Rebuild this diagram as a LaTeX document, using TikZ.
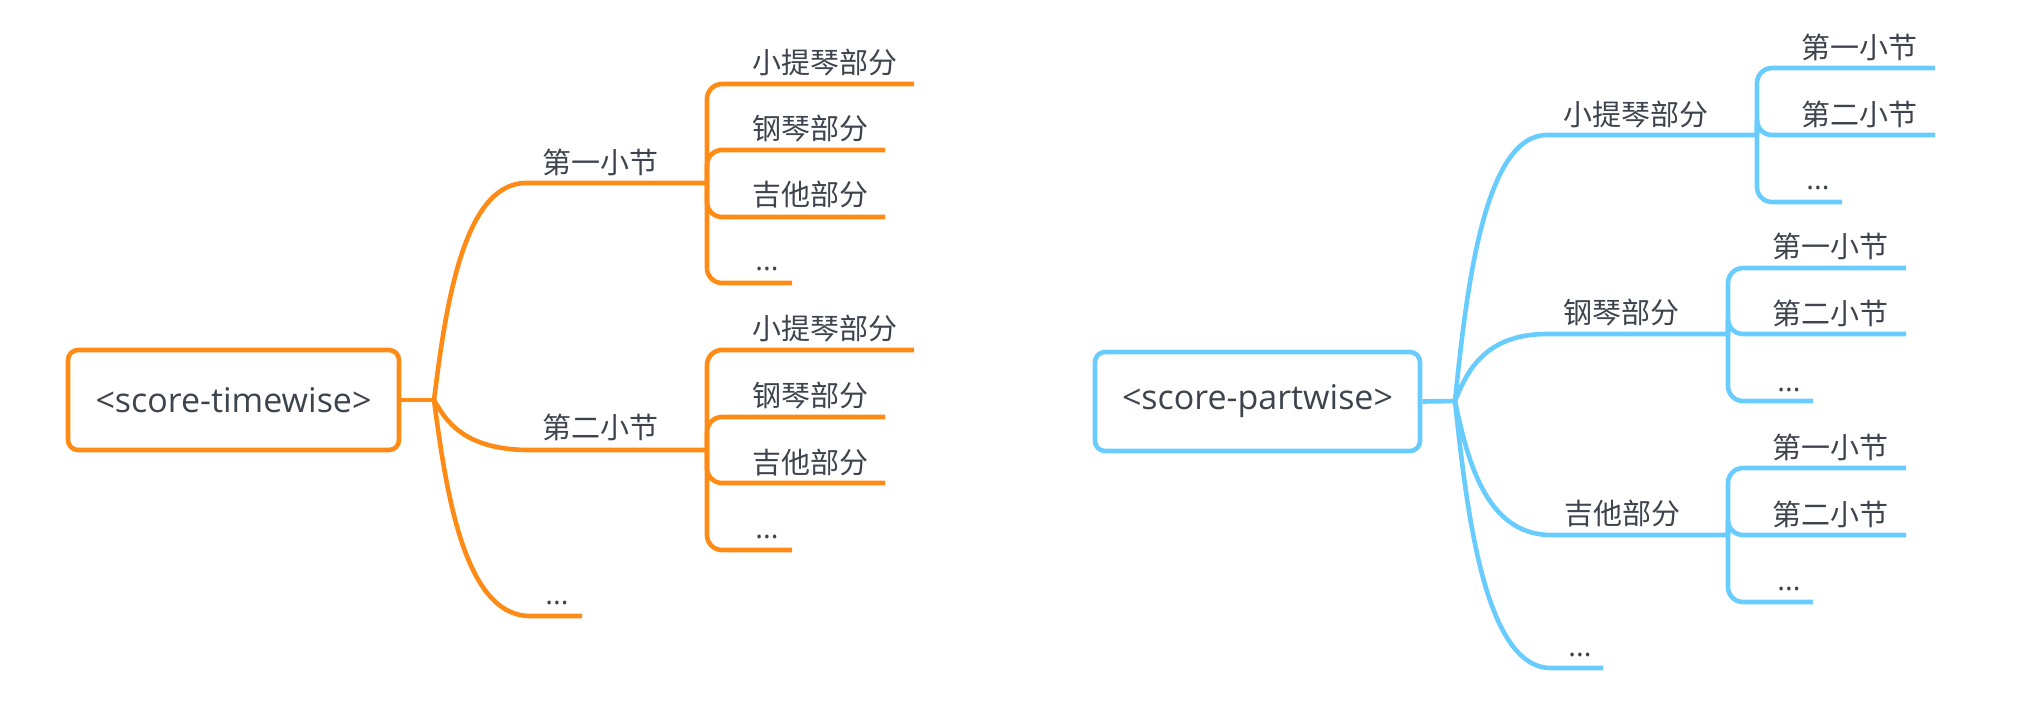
\documentclass[tikz,border=0pt]{standalone}
\usepackage{fontspec}
\setmainfont{Open Sans}
\newfontfamily\cjk{Noto Sans CJK SC}
\definecolor{orng}{RGB}{255,139,23}
\definecolor{skyb}{RGB}{104,205,254}
\definecolor{txtc}{RGB}{62,68,77}
\begin{document}
\begin{tikzpicture}[x=0.5pt,y=-0.5pt,
  lbl/.style={anchor=west,inner sep=0pt,text=txtc,xshift=-1.5pt,font=\cjk\fontsize{14.5pt}{14.5pt}\selectfont},
  dotlbl/.style={anchor=west,inner sep=0pt,text=txtc,font=\fontsize{14.5pt}{14.5pt}\selectfont},
  rootbox/.style={line width=2.3pt,rounded corners=5pt,text=txtc,inner sep=0pt,font=\fontsize{17pt}{17pt}\selectfont},
  ol/.style={draw=orng,line width=2.3pt},
  bl/.style={draw=skyb,line width=2.3pt},
  leafline/.style={rounded corners=7.5pt},
]
\useasboundingbox (0,0) rectangle (2020,724);

% ---------------- left (timewise) ----------------
\node[rootbox,draw=orng,minimum width=165.5pt,minimum height=50pt] (rootL) at (233.5,400) {<score-timewise>};
\coordinate (jL) at (434,400);
\coordinate (s1) at (526,183);
\coordinate (s2) at (530,450);
\coordinate (s3) at (530,616);
\coordinate (s3e) at (582,616);
\coordinate (p1) at (707,183);
\coordinate (p2) at (707,450);

\draw[ol] (rootL.east) -- (jL);
\draw[ol] (jL) .. controls +(11,-87) and +(-64,0) .. (s1) -- (p1);
\draw[ol] (jL) .. controls +(11.5,20) and +(-67,0) .. (s2) -- (p2);
\draw[ol] (jL) .. controls +(11.5,86) and +(-67,0) .. (s3) -- (s3e);

\node[lbl] (t1) at (545,162.5) {第一小节};
\node[lbl] (t2) at (545,427.5) {第二小节};
\node[dotlbl] (t3) at (545,603) {...};

% leaves of 第一小节
\coordinate (e11) at (914,84);
\coordinate (e12) at (885,150);
\coordinate (e13) at (885,217);
\coordinate (e14) at (792,283);
\draw[ol,leafline] (p1) |- (e11);
\draw[ol,leafline] (p1) |- (e12);
\draw[ol,leafline] (p1) |- (e13);
\draw[ol,leafline] (p1) |- (e14);
\node[lbl] (l11) at (755,62.5) {小提琴部分};
\node[lbl] (l12) at (755,128.5) {钢琴部分};
\node[lbl] (l13) at (755,195) {吉他部分};
\node[dotlbl] (l14) at (755,269) {...};

% leaves of 第二小节
\coordinate (e21) at (914,350);
\coordinate (e22) at (885,417);
\coordinate (e23) at (885,483);
\coordinate (e24) at (792,550);
\draw[ol,leafline] (p2) |- (e21);
\draw[ol,leafline] (p2) |- (e22);
\draw[ol,leafline] (p2) |- (e23);
\draw[ol,leafline] (p2) |- (e24);
\node[lbl] (l21) at (755,329) {小提琴部分};
\node[lbl] (l22) at (755,396) {钢琴部分};
\node[lbl] (l23) at (755,462.5) {吉他部分};
\node[dotlbl] (l24) at (755,537) {...};

% ---------------- right (partwise) ----------------
\node[rootbox,draw=skyb,minimum width=162.5pt,minimum height=49.5pt] (rootR) at (1257.5,401.5) {<score-partwise>};
\coordinate (jR) at (1455,401);
\coordinate (c1) at (1547,135);
\coordinate (c2) at (1547,334);
\coordinate (c3) at (1551,535);
\coordinate (c4) at (1551,668);
\coordinate (c4e) at (1603,668);
\coordinate (q1) at (1757,135);
\coordinate (q2) at (1728,334);
\coordinate (q3) at (1728,535);

\draw[bl] (rootR.east) -- (jR);
\draw[bl] (jR) .. controls +(11,-106) and +(-64,0) .. (c1) -- (q1);
\draw[bl] (jR) .. controls +(11,-27) and +(-64,0) .. (c2) -- (q2);
\draw[bl] (jR) .. controls +(11.5,54) and +(-67,0) .. (c3) -- (q3);
\draw[bl] (jR) .. controls +(11.5,107) and +(-67,0) .. (c4) -- (c4e);

\node[lbl] (u1) at (1566,114.5) {小提琴部分};
\node[lbl] (u2) at (1566,312.5) {钢琴部分};
\node[lbl] (u3) at (1567,513.5) {吉他部分};
\node[dotlbl] (u4) at (1568,655) {...};

% leaves of 小提琴部分
\coordinate (f11) at (1935,68);
\coordinate (f12) at (1935,135);
\coordinate (f13) at (1842,202);
\draw[bl,leafline] (q1) |- (f11);
\draw[bl,leafline] (q1) |- (f12);
\draw[bl,leafline] (q1) |- (f13);
\node[lbl] (m11) at (1804,47.5) {第一小节};
\node[lbl] (m12) at (1804,114.5) {第二小节};
\node[dotlbl] (m13) at (1806,188) {...};

% leaves of 钢琴部分
\coordinate (f21) at (1906,268);
\coordinate (f22) at (1906,334);
\coordinate (f23) at (1813,401);
\draw[bl,leafline] (q2) |- (f21);
\draw[bl,leafline] (q2) |- (f22);
\draw[bl,leafline] (q2) |- (f23);
\node[lbl] (m21) at (1775,246.5) {第一小节};
\node[lbl] (m22) at (1775,313) {第二小节};
\node[dotlbl] (m23) at (1777,390) {...};

% leaves of 吉他部分
\coordinate (f31) at (1906,468);
\coordinate (f32) at (1906,535);
\coordinate (f33) at (1813,602);
\draw[bl,leafline] (q3) |- (f31);
\draw[bl,leafline] (q3) |- (f32);
\draw[bl,leafline] (q3) |- (f33);
\node[lbl] (m31) at (1775,447.5) {第一小节};
\node[lbl] (m32) at (1775,514.5) {第二小节};
\node[dotlbl] (m33) at (1777,589) {...};
\end{tikzpicture}
\end{document}
